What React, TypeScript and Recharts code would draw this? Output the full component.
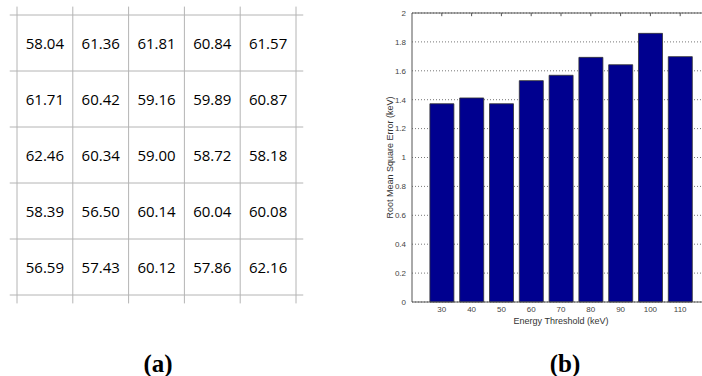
import React from 'react';
import {
  BarChart, Bar, XAxis, YAxis, CartesianGrid, Label,
  ScatterChart, Scatter, ReferenceLine,
} from 'recharts';

// (a) 5x5 table of values
const tableRows = [
  ['58.04', '61.36', '61.81', '60.84', '61.57'],
  ['61.71', '60.42', '59.16', '59.89', '60.87'],
  ['62.46', '60.34', '59.00', '58.72', '58.18'],
  ['58.39', '56.50', '60.14', '60.04', '60.08'],
  ['56.59', '57.43', '60.12', '57.86', '62.16'],
];
const gridIdx = [0, 1, 2, 3, 4, 5];

// (b) RMSE per energy threshold
const thresholds = [30, 40, 50, 60, 70, 80, 90, 100, 110];
const rmse = [1.372, 1.412, 1.372, 1.532, 1.569, 1.693, 1.642, 1.859, 1.698];
const yTicks = [0, 0.2, 0.4, 0.6, 0.8, 1, 1.2, 1.4, 1.6, 1.8, 2];

const cells = tableRows.flatMap((row, r) =>
  row.map((v, c) => ({ x: c + 0.5, y: r + 0.5, label: v }))
);
const barData = thresholds.map((t, i) => ({ threshold: t, rmse: rmse[i] }));

const CellText = (props: any) => (
  <text
    x={props.cx}
    y={props.cy}
    textAnchor="middle"
    dominantBaseline="central"
    fontFamily="'Open Sans', sans-serif"
    fontSize={15}
    fill="#000"
  >
    {props.payload.label}
  </text>
);

const TablePanel = () => (
  <ScatterChart width={320} height={320} margin={{ top: 15, right: 24, bottom: 25, left: 17 }}>
    <XAxis type="number" dataKey="x" domain={[0, 5]} hide />
    <YAxis type="number" dataKey="y" domain={[0, 5]} reversed hide />
    {gridIdx.map(i => (
      <ReferenceLine
        key={`v${i}`}
        segment={[{ x: i, y: -0.15 }, { x: i, y: 5.15 }]}
        stroke="#b4b4b4"
        strokeWidth={1}
        ifOverflow="visible"
      />
    ))}
    {gridIdx.map(i => (
      <ReferenceLine
        key={`h${i}`}
        segment={[{ x: -0.13, y: i }, { x: 5.13, y: i }]}
        stroke="#b4b4b4"
        strokeWidth={1}
        ifOverflow="visible"
      />
    ))}
    <Scatter data={cells} shape={<CellText />} isAnimationActive={false} />
  </ScatterChart>
);

const tickStyle = { fontSize: 8, fill: '#444', fontFamily: 'Liberation Sans, Arial, sans-serif' };

const BarPanel = () => (
  <BarChart width={350} height={376} data={barData} margin={{ top: 13, right: 10, bottom: 44, left: 10 }}>
    <CartesianGrid vertical={false} stroke="#777" strokeDasharray="1 2" />
    <XAxis
      type="number"
      dataKey="threshold"
      domain={[20, 120]}
      ticks={thresholds}
      height={30}
      tickLine={false}
      tickSize={0}
      tickMargin={4}
      tick={tickStyle}
      axisLine={{ stroke: '#555' }}
    >
      <Label
        value="Energy Threshold (keV)"
        position="insideBottom"
        offset={8}
        style={{ fontSize: 9, fill: '#333', fontFamily: 'Liberation Sans, Arial, sans-serif' }}
      />
    </XAxis>
    <YAxis
      domain={[0, 2]}
      ticks={yTicks}
      width={32}
      tickLine={false}
      tickSize={0}
      tickMargin={6}
      tick={tickStyle}
      axisLine={{ stroke: '#555' }}
    >
      <Label
        value="Root Mean Square Error (keV)"
        angle={-90}
        position="insideLeft"
        offset={10}
        style={{ textAnchor: 'middle', fontSize: 9, fill: '#333', fontFamily: 'Liberation Sans, Arial, sans-serif' }}
      />
    </YAxis>
    {/* box top edge with inward tick marks */}
    <ReferenceLine y={2} stroke="#555" ifOverflow="visible" />
    {thresholds.map(t => (
      <ReferenceLine
        key={`tt${t}`}
        segment={[{ x: t, y: 2 }, { x: t, y: 1.978 }]}
        stroke="#555"
        ifOverflow="visible"
      />
    ))}
    <Bar dataKey="rmse" barSize={24} fill="#00008f" stroke="#333" strokeWidth={0.8} isAnimationActive={false} />
  </BarChart>
);

export default function App() {
  return (
    <div style={{ position: 'fixed', left: 0, top: 0, width: 702, height: 376, overflow: 'hidden', background: '#fff' }}>
      <div style={{ position: 'absolute', left: 0, top: 0 }}>
        <TablePanel />
      </div>
      <div style={{ position: 'absolute', left: 370, top: 0 }}>
        <BarPanel />
      </div>
      <svg width={702} height={376} style={{ position: 'absolute', left: 0, top: 0, pointerEvents: 'none' }}>
        <text x={158} y={372} textAnchor="middle" fontFamily="'Liberation Serif', serif" fontWeight="bold" fontSize={25} fill="#000">(a)</text>
        <text x={565} y={372} textAnchor="middle" fontFamily="'Liberation Serif', serif" fontWeight="bold" fontSize={25} fill="#000">(b)</text>
      </svg>
    </div>
  );
}
